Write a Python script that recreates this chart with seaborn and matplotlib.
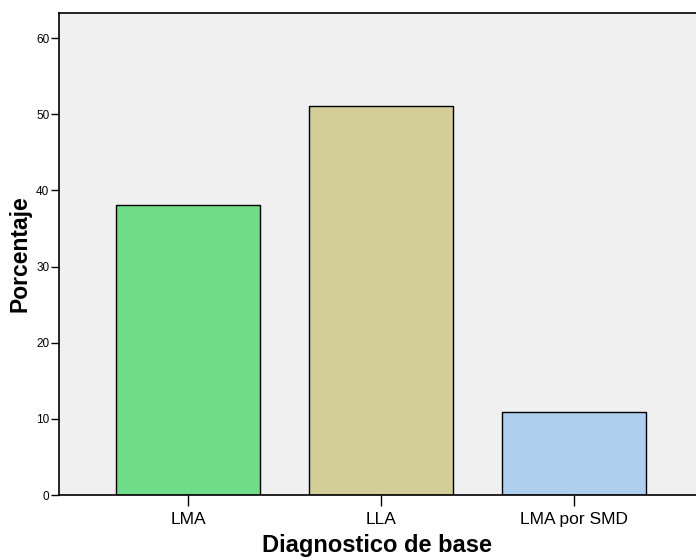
import numpy as np
import pandas as pd
import matplotlib as mpl
mpl.use("Agg")
import matplotlib.pyplot as plt
import seaborn as sns

# data
categorias = ["LMA", "LLA", "LMA por SMD"]
porcentaje = [38.1, 51.1, 10.9]
colores = ["#72DD88", "#D3CE98", "#AED0EE"]

df = pd.DataFrame({"diag": categorias, "pct": porcentaje})

sns.set_style("white")
plt.rcParams["font.family"] = ["Liberation Sans", "DejaVu Sans"]
plt.rcParams["text.color"] = "black"
plt.rcParams["axes.labelcolor"] = "black"
plt.rcParams["xtick.color"] = "black"
plt.rcParams["ytick.color"] = "black"

fig = plt.figure(figsize=(6.96, 5.57), dpi=100)
ax = fig.add_axes([59 / 696, 1 - 495 / 557, 1 - 59 / 696, (495 - 13) / 557])
ax.set_facecolor("#F0F0F0")

sns.barplot(data=df, x="diag", y="pct", hue="diag", palette=colores,
            width=0.746, edgecolor="black", linewidth=1, saturation=1,
            legend=False, ax=ax)

ax.set_xlim(-0.668, 2.632)
ax.set_ylim(0, 63.3)
ax.set_yticks([0, 10, 20, 30, 40, 50, 60])
ax.tick_params(axis="y", labelsize=8.5, length=6, width=1, direction="out", left=True, pad=1)
ax.tick_params(axis="x", labelsize=12.5, length=8, width=1, direction="out", bottom=True, pad=4)

for s in ["left", "top", "bottom"]:
    ax.spines[s].set_visible(True)
    ax.spines[s].set_color("black")
    ax.spines[s].set_linewidth(1.2)
ax.spines["right"].set_visible(False)

ax.set_xlabel("Diagnostico de base", fontsize=17, fontweight="bold", labelpad=5)
ax.set_ylabel("Porcentaje", fontsize=16.5, fontweight="bold", labelpad=3)

fig.savefig("out.png", dpi=100)
